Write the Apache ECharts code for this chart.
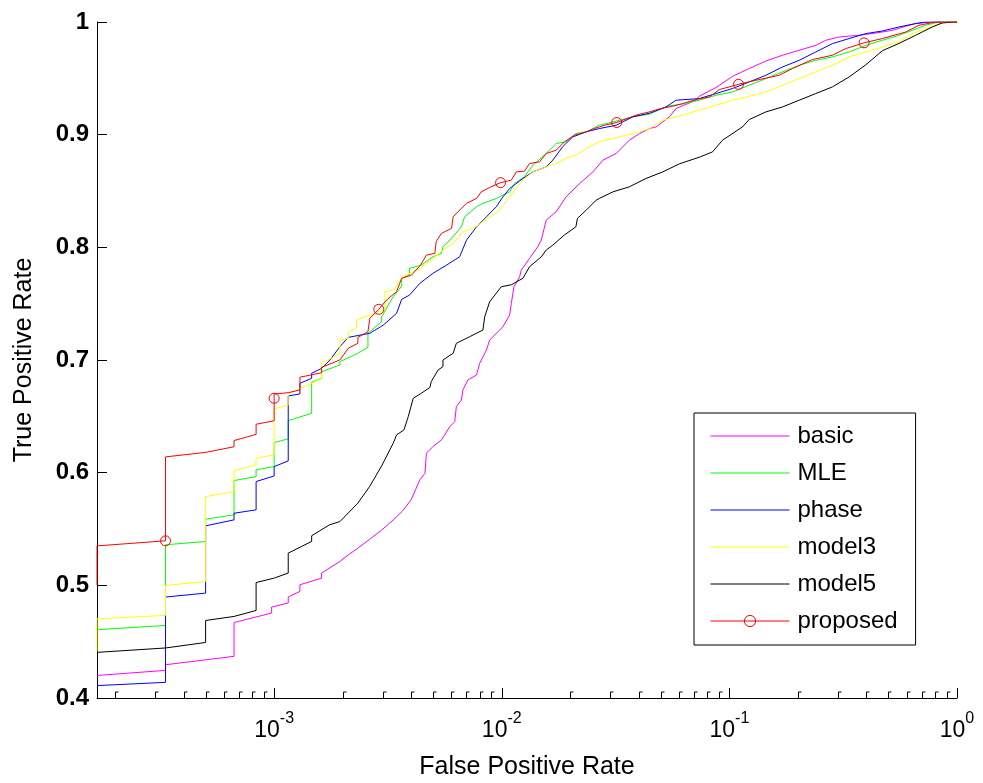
<!DOCTYPE html>
<html>
<head>
<meta charset="utf-8">
<title>ROC curves</title>
<script src="https://cdn.jsdelivr.net/npm/echarts@6/dist/echarts.min.js"></script>
<style>
  html, body { margin: 0; padding: 0; background: #ffffff; }
  #chart { width: 983px; height: 783px; }
</style>
</head>
<body>
<div id="chart"></div>
<script>
// Number of negative samples; every curve below lists
// [false-positive count, true positive rate] pairs.
const NEG = 6000;

const seriesNames = ['basic', 'MLE', 'phase', 'model3', 'model5', 'proposed'];
const seriesColors = ['#ff00ff', '#00ff00', '#0000ff', '#ffff00', '#000000', '#ff0000'];

const yTicks = [0.4, 0.5, 0.6, 0.7, 0.8, 0.9, 1];
const xTickExponents = [-3, -2, -1, 0];

const basic = [
  [1, 0.420], [2, 0.4245], [2, 0.4295], [4, 0.437], [4, 0.467], [5.85, 0.4754], [5.85, 0.4807],
  [6.92, 0.4843], [6.92, 0.4896], [7.79, 0.4946], [7.79, 0.5005], [9.7, 0.5064], [9.7, 0.5109],
  [11.67, 0.5212], [12.7, 0.527], [14, 0.533], [15.8, 0.541], [17.8, 0.549], [20, 0.558],
  [22, 0.566], [24, 0.576], [26.2, 0.5936], [27.6, 0.5995], [28, 0.6173], [29.9, 0.6231],
  [32.6, 0.6291], [35.5, 0.6409], [37.3, 0.6453], [37.9, 0.6586], [39.9, 0.6645], [40.5, 0.6734],
  [42.6, 0.6823], [46.5, 0.6867], [48, 0.6971], [51.4, 0.7089], [53.1, 0.7177], [60.7, 0.7295],
  [65, 0.7399], [66.1, 0.7503], [67.9, 0.765], [71.9, 0.7739], [73.1, 0.7798], [79.5, 0.7902],
  [86.4, 0.8005], [89.5, 0.8064], [94.1, 0.8242], [104, 0.8315], [115, 0.8448], [132, 0.8567],
  [151, 0.867], [167, 0.8774], [191, 0.8833], [218, 0.8951], [242, 0.901], [267, 0.9054],
  [286, 0.9069], [327, 0.9158], [350, 0.9232], [428, 0.9306], [442, 0.9341], [524, 0.9418],
  [620, 0.9518], [733, 0.9587], [868, 0.9654], [1027, 0.9705], [1216, 0.9749], [1438, 0.9793],
  [1592, 0.9838], [1820, 0.9867], [2228, 0.9882], [2637, 0.9902], [3119, 0.9926], [3570, 0.9962],
  [3948, 0.9986], [4660, 1], [6000, 1]
];

const mle = [
  [1, 0.4606], [2, 0.4644], [2, 0.536], [3, 0.5389], [3, 0.5587], [4, 0.5626], [4, 0.593],
  [5, 0.5965], [5, 0.6025], [6, 0.6054], [6, 0.6267], [6.92, 0.63], [6.92, 0.6462], [8.77, 0.6527],
  [8.77, 0.6802], [9.7, 0.6838], [9.7, 0.6896], [11.67, 0.6956], [11.67, 0.6985], [14, 0.706],
  [15.5, 0.7113], [15.5, 0.7237], [17.8, 0.734], [17.8, 0.7384], [20, 0.7561], [21.8, 0.7656],
  [21.8, 0.7725], [23.6, 0.7754], [23.6, 0.7813], [26.6, 0.7842], [29.9, 0.7916], [32.6, 0.7946],
  [33.1, 0.8005], [35.5, 0.8064], [39.9, 0.8182], [41.2, 0.8271], [46.5, 0.836], [49.6, 0.839],
  [56.8, 0.8434], [65, 0.8493], [68.4, 0.8567], [75.5, 0.8626], [82.2, 0.8729], [94.1, 0.8833],
  [104, 0.8922], [115, 0.8936], [127, 0.901], [141, 0.9025], [161, 0.9084], [185, 0.9113],
  [197, 0.9128], [226, 0.9158], [267, 0.9182], [320, 0.9252], [385, 0.9276], [442, 0.9306],
  [524, 0.935], [620, 0.9379], [733, 0.9439], [868, 0.9498], [1027, 0.9557], [1216, 0.9616],
  [1438, 0.966], [1702, 0.969], [2014, 0.9734], [2385, 0.9793], [2820, 0.9838], [3337, 0.9882],
  [3816, 0.9926], [4368, 0.9971], [5000, 1], [6000, 1]
];

const phase = [
  [1, 0.411], [2, 0.4139], [2, 0.4896], [3, 0.4931], [3, 0.5528], [4, 0.5581], [4, 0.564],
  [5, 0.567], [5, 0.5921], [6, 0.5971], [6, 0.6054], [6.92, 0.6104], [6.92, 0.6681], [7.79, 0.6699],
  [7.79, 0.6793], [8.77, 0.6838], [8.77, 0.6882], [9.7, 0.6926], [10.55, 0.700], [11.67, 0.7118],
  [12.7, 0.7201], [15.8, 0.7237], [18.1, 0.731], [20.7, 0.7414], [21.8, 0.7538], [23.6, 0.7576],
  [26.2, 0.768], [29.9, 0.7769], [34.3, 0.7842], [39.2, 0.7916], [42, 0.8064], [46.5, 0.8182],
  [51.4, 0.8271], [56.8, 0.836], [60.7, 0.8448], [65, 0.8522], [74.3, 0.8611], [82.2, 0.867],
  [94.1, 0.8714], [100.6, 0.8774], [111, 0.8892], [123, 0.898], [141, 0.9025], [161, 0.9054],
  [191, 0.9084], [226, 0.9158], [267, 0.919], [316, 0.9246], [350, 0.9306], [442, 0.932],
  [524, 0.9365], [620, 0.941], [733, 0.9468], [868, 0.9527], [1027, 0.9601], [1216, 0.966],
  [1438, 0.9734], [1702, 0.9808], [2014, 0.9853], [2385, 0.9897], [2820, 0.992], [3337, 0.9956],
  [3948, 0.9986], [4368, 1], [6000, 1]
];

const model3 = [
  [1, 0.4413], [1, 0.4703], [2, 0.4733], [2, 0.4999], [3, 0.5034], [3, 0.5788], [4, 0.5832],
  [4, 0.6018], [5, 0.6069], [5, 0.6128], [6, 0.6158], [6, 0.6565], [6.92, 0.6601], [6.92, 0.6699],
  [8.77, 0.6793], [9.7, 0.6838], [9.7, 0.6976], [11.67, 0.7053], [11.67, 0.7177], [12.7, 0.7192],
  [12.7, 0.7251], [13.8, 0.7281], [13.8, 0.7355], [15.8, 0.7399], [17.2, 0.7428], [18.4, 0.7443],
  [18.4, 0.7606], [20, 0.7621], [22.1, 0.7739], [26.2, 0.7813], [29.9, 0.7902], [33.1, 0.7976],
  [36.7, 0.8035], [40.5, 0.8138], [44.9, 0.8168], [52.2, 0.8257], [58.7, 0.833], [65, 0.8448],
  [74.3, 0.8596], [82.2, 0.867], [94.1, 0.8714], [104, 0.8744], [115, 0.8789], [127, 0.8818],
  [141, 0.8877], [161, 0.8936], [185, 0.8966], [211, 0.8995], [242, 0.9025], [267, 0.9054],
  [306, 0.9128], [374, 0.9173], [442, 0.9217], [524, 0.9261], [620, 0.9306], [733, 0.9341],
  [868, 0.9379], [1027, 0.9439], [1216, 0.9498], [1438, 0.9557], [1702, 0.9616], [2014, 0.969],
  [2385, 0.9734], [2820, 0.9778], [3337, 0.9823], [3816, 0.9897], [4368, 0.9941], [5000, 0.9986],
  [5345, 1], [6000, 1]
];

const model5 = [
  [1, 0.4405], [2, 0.4444], [3, 0.4493], [3, 0.4688], [4, 0.4724], [5, 0.4777], [5, 0.5025],
  [6, 0.5064], [6.92, 0.5109], [6.92, 0.5286], [8.77, 0.539], [8.77, 0.544], [10.5, 0.5537],
  [11.67, 0.5566], [14, 0.573], [15.8, 0.588], [17.8, 0.606], [20, 0.626], [20.3, 0.6291],
  [20.7, 0.6335], [22.3, 0.6379], [23.3, 0.6497], [24.5, 0.666], [26.6, 0.6705], [29, 0.6756],
  [29.4, 0.6808], [31.5, 0.6911], [33.1, 0.6941], [33.1, 0.700], [36.7, 0.706], [37.9, 0.7148],
  [43.4, 0.7207], [49.6, 0.7266], [50.5, 0.7384], [53.1, 0.7517], [59.7, 0.765], [66.1, 0.7668],
  [74.3, 0.7725], [79.5, 0.7828], [89.5, 0.7916], [94.1, 0.7976], [100.6, 0.802], [113, 0.8109],
  [127, 0.8182], [129, 0.8257], [141, 0.833], [156, 0.8419], [161, 0.8434], [185, 0.8493],
  [218, 0.8537], [258, 0.8611], [306, 0.867], [362, 0.8741], [447, 0.8803], [506, 0.8847],
  [560, 0.8951], [685, 0.9069], [733, 0.9134], [868, 0.9202], [1027, 0.9246], [1216, 0.9306],
  [1438, 0.9365], [1702, 0.9424], [2014, 0.9512], [2385, 0.962], [2820, 0.9745], [3337, 0.981],
  [3948, 0.9882], [4670, 0.9956], [5165, 0.9991], [5717, 1], [6000, 1]
];

const proposed = [
  [1, 0.500], [1, 0.535], [2, 0.5395], [2, 0.614], [3, 0.618], [4, 0.623], [4, 0.6285],
  [5, 0.634], [5, 0.643], [6, 0.646], [6, 0.666], [6, 0.6698], [6.92, 0.671], [7.79, 0.6734],
  [7.79, 0.6847], [9.7, 0.6887], [9.7, 0.6935], [11.67, 0.700], [12.7, 0.7104], [14, 0.7148],
  [14, 0.7201], [15.5, 0.7251], [15.8, 0.737], [17.3, 0.745], [18.7, 0.7532], [20.7, 0.7606],
  [21.8, 0.7725], [24.1, 0.7754], [26.4, 0.7843], [28, 0.7931], [30.5, 0.7946], [30.9, 0.805],
  [32.6, 0.8124], [36.1, 0.8168], [36.7, 0.8271], [38.5, 0.8315], [42, 0.839], [46.5, 0.8434],
  [48.8, 0.8493], [53.1, 0.8531], [59.3, 0.8574], [66.1, 0.8596], [69.5, 0.867], [75.5, 0.8676],
  [79.5, 0.8744], [87.9, 0.8759], [94.1, 0.8833], [104, 0.8862], [113, 0.8936], [125, 0.8995],
  [141, 0.9025], [153, 0.9054], [170, 0.9084], [192, 0.9108], [233, 0.9173], [267, 0.9202],
  [300, 0.9232], [338, 0.9252], [374, 0.9276], [428, 0.9312], [490, 0.9335], [542, 0.94],
  [658, 0.9447], [785, 0.9483], [993, 0.9527], [1136, 0.9587], [1390, 0.9667], [1702, 0.9705],
  [1947, 0.9764], [2344, 0.9815], [2820, 0.9853], [3570, 0.9911], [4083, 0.9971], [4831, 1],
  [6000, 1]
];

// Points of the proposed curve that carry a circle marker.
const proposedMarkers = [
  [2, 0.5395], [6, 0.666], [17.3, 0.745], [59.3, 0.8574], [192, 0.9108], [658, 0.9447], [2344, 0.9815]
];

const curves = [basic, mle, phase, model3, model5, proposed];

const FONT = '"Liberation Sans", Arial, Helvetica, sans-serif';
const Y_MIN = yTicks[0];
const Y_MAX = yTicks[yTicks.length - 1];
const X_MIN = 1 / NEG;
const X_MAX = 1;
const CLEAR = 'rgba(255,255,255,0)';

// Minor ticks of the log axis: 2..9 times each power of ten inside the range.
const minorTickValues = [];
for (let e = -4; e < 0; e++) {
  for (let m = 2; m <= 9; m++) {
    const v = m * Math.pow(10, e);
    if (v > X_MIN && v < X_MAX) minorTickValues.push(v);
  }
}

function isMarker(p) {
  return proposedMarkers.some(function (m) {
    return m[0] === p[0] && Math.abs(m[1] - p[1]) < 1e-9;
  });
}

const lineSeries = curves.map(function (curve, i) {
  const isProposed = seriesNames[i] === 'proposed';
  const data = curve.map(function (p) {
    const item = { value: [p[0] / NEG, p[1]] };
    if (isProposed && !isMarker(p)) item.symbol = 'none';
    return item;
  });
  const s = {
    name: seriesNames[i],
    type: 'line',
    data: data,
    color: seriesColors[i],
    lineStyle: { color: seriesColors[i], width: 1 },
    symbol: 'none',
    silent: true,
    z: 2 + i * 0.01
  };
  if (isProposed) {
    s.symbol = 'circle';
    s.symbolSize = 10;
    s.showSymbol = true;
    s.showAllSymbol = true;
    s.itemStyle = { color: CLEAR, borderColor: seriesColors[i], borderWidth: 1 };
  }
  return s;
});

// Legend entries: plain lines, with the hollow circle only on the proposed curve.
const legendData = seriesNames.map(function (name, i) {
  const isProposed = name === 'proposed';
  return {
    name: name,
    itemStyle: isProposed
      ? { color: CLEAR, borderColor: seriesColors[i], borderWidth: 1 }
      : { color: CLEAR, borderColor: CLEAR, borderWidth: 0 },
    lineStyle: { color: seriesColors[i], width: 1 }
  };
});

const minorTickSeries = {
  name: 'minorTicks',
  type: 'custom',
  coordinateSystem: 'cartesian2d',
  silent: true,
  clip: false,
  z: 3,
  data: minorTickValues.map(function (v) { return [v, Y_MIN]; }),
  encode: { x: 0, y: 1 },
  renderItem: function (params, api) {
    const p = api.coord([api.value(0), Y_MIN]);
    const x = Math.round(p[0]) + 0.5;
    const y = Math.round(p[1]);
    return {
      type: 'polyline',
      shape: { points: [[x, y], [x, y - 6], [x + 3, y - 6]] },
      style: { stroke: '#000', fill: null, lineWidth: 1 }
    };
  }
};

const chart = echarts.init(document.getElementById('chart'), null, { renderer: 'canvas' });

chart.setOption({
  animation: false,
  backgroundColor: '#ffffff',
  grid: { left: 97, right: 26, top: 22, bottom: 85, containLabel: false, outerBoundsMode: 'none' },
  xAxis: {
    type: 'log',
    logBase: 10,
    min: X_MIN,
    max: X_MAX,
    name: 'False Positive Rate',
    nameLocation: 'middle',
    nameGap: 57,
    nameMoveOverlap: false,
    nameTextStyle: { fontSize: 25, color: '#000', fontFamily: FONT },
    axisLine: { show: true, onZero: false, lineStyle: { color: '#000', width: 1 } },
    axisTick: { show: true, inside: true, length: 10, lineStyle: { color: '#000', width: 1 } },
    minorTick: { show: false },
    splitLine: { show: false },
    axisLabel: {
      margin: 13,
      color: '#000',
      fontSize: 23,
      fontFamily: FONT,
      showMinLabel: false,
      formatter: function (value) {
        const lg = Math.log10(value);
        const e = Math.round(lg);
        if (Math.abs(lg - e) > 1e-6 || xTickExponents.indexOf(e) < 0) return '';
        return '{b|10}{sup|' + e + '}';
      },
      rich: {
        b: { fontSize: 23, lineHeight: 40, color: '#000', fontFamily: FONT },
        sup: { fontSize: 16, lineHeight: 10, verticalAlign: 'top', color: '#000', fontFamily: FONT }
      }
    }
  },
  yAxis: {
    type: 'value',
    min: Y_MIN,
    max: Y_MAX,
    interval: 0.1,
    name: 'True Positive Rate',
    nameLocation: 'middle',
    nameGap: 60,
    nameMoveOverlap: false,
    nameTextStyle: { fontSize: 25, color: '#000', fontFamily: FONT },
    axisLine: { show: true, lineStyle: { color: '#000', width: 1 } },
    axisTick: { show: true, inside: true, length: 10, lineStyle: { color: '#000', width: 1 } },
    splitLine: { show: false },
    axisLabel: {
      margin: 8,
      color: '#000',
      fontSize: 24,
      fontWeight: 'bold',
      fontFamily: FONT,
      formatter: function (v) {
        return Math.abs(v - 1) < 1e-9 ? '1' : v.toFixed(1);
      }
    }
  },
  legend: {
    data: legendData,
    orient: 'vertical',
    left: 694,
    top: 413,
    padding: [11, 18, 12, 16],
    itemWidth: 79,
    itemHeight: 14,
    itemGap: 13,
    selectedMode: false,
    backgroundColor: '#ffffff',
    borderColor: '#000',
    borderWidth: 1,
    borderRadius: 0,
    textStyle: { fontSize: 24, lineHeight: 24, color: '#000', fontFamily: FONT, padding: [0, 0, 0, 3] }
  },
  series: lineSeries.concat([minorTickSeries])
});
</script>
</body>
</html>
